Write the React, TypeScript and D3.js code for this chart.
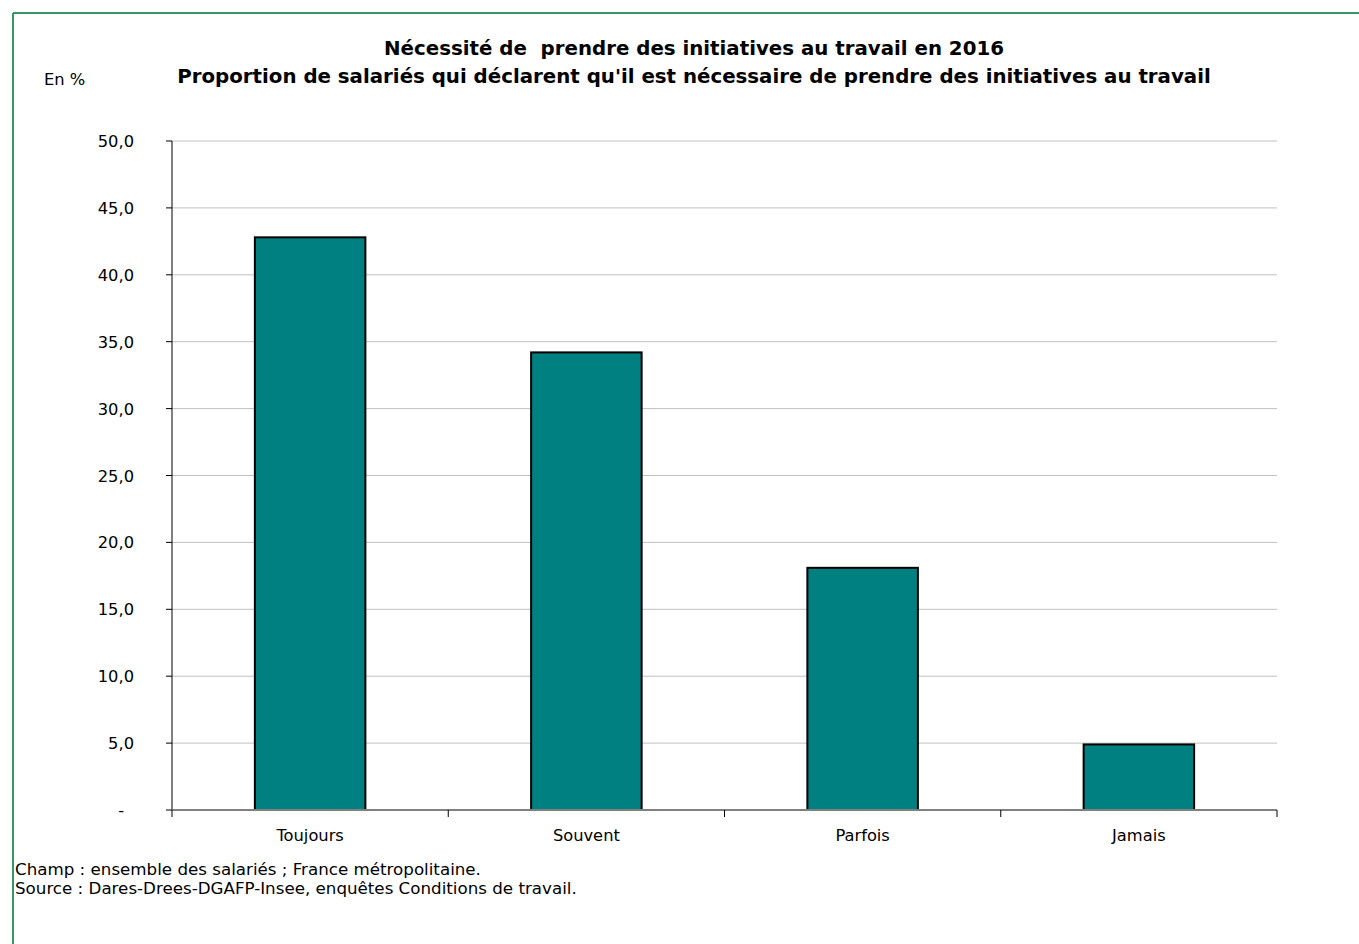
import React from "react";
import * as d3 from "d3";

const categories = ["Toujours", "Souvent", "Parfois", "Jamais"];
const values = [42.8, 34.2, 18.1, 4.9];
const yTicks = [0, 5, 10, 15, 20, 25, 30, 35, 40, 45, 50];
const titleLines = [
  "Nécessité de  prendre des initiatives au travail en 2016",
  "Proportion de salariés qui déclarent qu'il est nécessaire de prendre des initiatives au travail",
];
const notes = [
  "Champ : ensemble des salariés ; France métropolitaine.",
  "Source : Dares-Drees-DGAFP-Insee, enquêtes Conditions de travail.",
];

const W = 1359;
const H = 944;
const font = "'DejaVu Sans', Verdana, sans-serif";
const fs = 16.3;

export default function App() {
  const x0 = 172, x1 = 1277, yTop = 141, yBot = 810;
  const x = d3.scaleBand<string>().domain(categories).range([x0, x1]).paddingInner(0.6).paddingOuter(0.3);
  const y = d3.scaleLinear().domain([0, 50]).range([yBot, yTop]);
  const fmt = (v: number) => (v === 0 ? "-" : v.toFixed(1).replace(".", ","));
  const bandStep = (x1 - x0) / categories.length;
  const boundaries = d3.range(categories.length + 1).map((i) => x0 + i * bandStep);

  return (
    <svg width={W} height={H} style={{ position: "absolute", left: 0, top: 0 }} fontFamily={font}>
      <rect x={0} y={0} width={W} height={H} fill="#fff" />
      <line x1={13} y1={13} x2={W} y2={13} stroke="#339966" strokeWidth={2} />
      <line x1={13} y1={13} x2={13} y2={H} stroke="#339966" strokeWidth={2} />
      {titleLines.map((t, i) => (
        <text key={i} x={694} y={55 + i * 28} textAnchor="middle" fontWeight="bold" fontSize={19.8} fill="#000" style={{ whiteSpace: "pre" }}>
          {t}
        </text>
      ))}
      <text x={44} y={85} fontSize={fs} fill="#000">En %</text>
      {yTicks.map((t) => (
        <g key={t}>
          {t > 0 && <line x1={x0} x2={x1} y1={y(t)} y2={y(t)} stroke="#c0c0c0" strokeWidth={1} />}
          <line x1={x0 - 6} x2={x0} y1={y(t)} y2={y(t)} stroke="#000" strokeWidth={1} />
          <text x={t === 0 ? 124 : 134} y={y(t) + 6} textAnchor="end" fontSize={fs} fill="#000">{fmt(t)}</text>
        </g>
      ))}
      {categories.map((c, i) => (
        <rect
          key={c}
          x={x(c)!}
          y={y(values[i])}
          width={x.bandwidth()}
          height={yBot - y(values[i])}
          fill="#008080"
          stroke="#000"
          strokeWidth={2}
        />
      ))}
      <line x1={x0} x2={x0} y1={yTop} y2={yBot} stroke="#000" strokeWidth={1} />
      <line x1={x0} x2={x1} y1={yBot} y2={yBot} stroke="#808080" strokeWidth={2} />
      {boundaries.map((b, i) => (
        <line key={i} x1={b} x2={b} y1={yBot} y2={yBot + 7} stroke="#000" strokeWidth={1} />
      ))}
      {categories.map((c) => (
        <text key={c} x={x(c)! + x.bandwidth() / 2} y={841} textAnchor="middle" fontSize={fs} fill="#000">
          {c}
        </text>
      ))}
      {notes.map((n, i) => (
        <text key={i} x={15} y={875 + i * 19} fontSize={16.7} fill="#000">{n}</text>
      ))}
    </svg>
  );
}
